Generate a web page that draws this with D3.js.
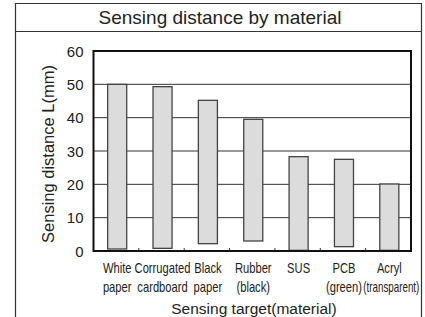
<!DOCTYPE html>
<meta charset="utf-8">
<script src="https://d3js.org/d3.v7.min.js"></script>
<style>
  body { margin: 0; background: #fff; }
  text { font-family: Arial, "Liberation Sans", sans-serif; fill: #222; }
</style>
<div id="chart"></div>
<script>
    // chart data
    var materials = ["White paper", "Corrugated cardboard", "Black paper", "Rubber (black)", "SUS", "PCB (green)", "Acryl (transparent)"]
    var labelLine1 = ["White", "Corrugated", "Black", "Rubber", "SUS", "PCB", "Acryl"]
    var labelLine2 = ["paper", "cardboard", "paper", "(black)", "", "(green)", "(transparent)"]
    var minDist = [0.6, 0.8, 2.2, 3.0, 0.2, 1.3, 0.2]
    var maxDist = [50, 49.3, 45.2, 39.5, 28.3, 27.5, 20.1]
    var yTicks = [0, 10, 20, 30, 40, 50, 60]

    var width = 425, height = 317
    var plot = {left: 93.5, right: 411, top: 51, bottom: 251}

    var svg = d3.select("#chart").append("svg")
        .attr("width", width)
        .attr("height", height)

    // outer frame + title box
    svg.append("path")
        .attr("d", "M15.5,320 V3.5 H421.5 V320")
        .attr("fill", "none").attr("stroke", "#333").attr("stroke-width", 1.2)
    svg.append("line")
        .attr("x1", 15.5).attr("x2", 421.5).attr("y1", 31.5).attr("y2", 31.5)
        .attr("stroke", "#333").attr("stroke-width", 1.2)
    svg.append("text")
        .attr("x", 220).attr("y", 24)
        .attr("text-anchor", "middle")
        .style("font-size", "19px")
        .text("Sensing distance by material")

    var x = d3.scaleBand()
        .domain(materials)
        .range([plot.left, plot.right])
        .paddingInner(0)

    var y = d3.scaleLinear()
        .domain([0, 60])
        .range([plot.bottom, plot.top])

    // grid lines
    svg.append("g")
        .selectAll("line")
        .data(yTicks.filter(function(d) { return d > 0 && d < 60 }))
        .enter().append("line")
        .attr("x1", plot.left).attr("x2", plot.right)
        .attr("y1", function(d) { return y(d) }).attr("y2", function(d) { return y(d) })
        .attr("stroke", "#333").attr("stroke-width", 1)

    // bars: from min to max distance
    var barW = x.bandwidth() * 0.42
    svg.append("g")
        .selectAll("rect")
        .data(materials)
        .enter().append("rect")
        .attr("x", function(d) { return x(d) + x.bandwidth() / 2 - barW / 2 + 1 })
        .attr("width", barW)
        .attr("y", function(d, i) { return y(maxDist[i]) })
        .attr("height", function(d, i) { return y(minDist[i]) - y(maxDist[i]) })
        .attr("fill", "#dcdcdc")
        .attr("stroke", "#444")
        .attr("stroke-width", 1.3)

    // x ticks (inward, at band boundaries)
    svg.append("g")
        .selectAll("line")
        .data(materials.slice(1))
        .enter().append("line")
        .attr("x1", function(d) { return x(d) }).attr("x2", function(d) { return x(d) })
        .attr("y1", plot.bottom).attr("y2", plot.bottom - 3)
        .attr("stroke", "#333").attr("stroke-width", 1)

    // plot frame
    svg.append("rect")
        .attr("x", plot.left).attr("y", plot.top)
        .attr("width", plot.right - plot.left).attr("height", plot.bottom - plot.top)
        .attr("fill", "none").attr("stroke", "#111").attr("stroke-width", 2)

    // y tick labels
    svg.append("g")
        .selectAll("text")
        .data(yTicks)
        .enter().append("text")
        .attr("x", plot.left - 10)
        .attr("y", function(d) { return y(d) + 5.5 })
        .attr("text-anchor", "end")
        .style("font-size", "15px")
        .text(function(d) { return d })

    // x labels, two lines, condensed horizontally like the original
    function labelPos(line, dy) {
        return function(d, i) {
            var cx = x(d) + x.bandwidth() / 2 + (line == 2 && i == 6 ? 3 : 1)
            var k = (line == 2 && i == 6) ? 0.7 : 0.8
            return "translate(" + cx + "," + dy + ") scale(" + k + ",1)"
        }
    }
    var xl = svg.append("g")
    xl.selectAll("text.l1")
        .data(materials)
        .enter().append("text")
        .attr("class", "l1")
        .attr("transform", labelPos(1, 273))
        .attr("text-anchor", "middle")
        .style("font-size", "14px")
        .text(function(d, i) { return labelLine1[i] })
    xl.selectAll("text.l2")
        .data(materials)
        .enter().append("text")
        .attr("class", "l2")
        .attr("transform", labelPos(2, 292))
        .attr("text-anchor", "middle")
        .style("font-size", "14px")
        .text(function(d, i) { return labelLine2[i] })

    // axis titles
    svg.append("text")
        .attr("x", 254).attr("y", 314)
        .attr("text-anchor", "middle")
        .style("font-size", "15.5px")
        .text("Sensing target(material)")

    svg.append("text")
        .attr("transform", "translate(53.5," + ((plot.top + plot.bottom) / 2 + 3) + ") rotate(-90)")
        .attr("text-anchor", "middle")
        .style("font-size", "16.5px")
        .text("Sensing distance L(mm)")
</script>
